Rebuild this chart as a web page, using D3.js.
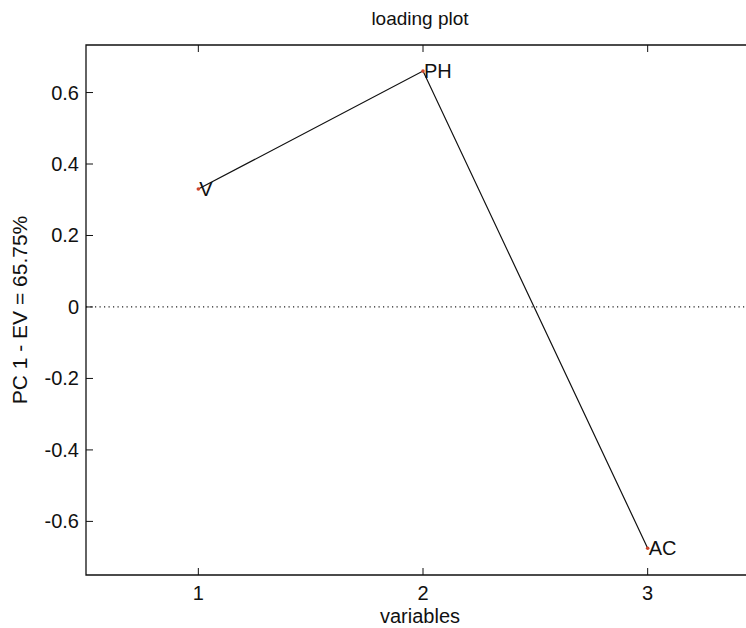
<!DOCTYPE html>
<html>
<head>
<meta charset="utf-8">
<script src="https://cdn.jsdelivr.net/npm/d3@7"></script>
<style>
  body { margin: 0; background: #fff; overflow: hidden; }
  svg { display: block; }
  text { font-family: "Liberation Sans", Arial, sans-serif; fill: #111; }
</style>
</head>
<body>
<div id="chart"></div>
<script>
// loadings for PC 1
var variables = ["V", "PH", "AC"];
var positions = [1, 2, 3];
var loadings = [0.33, 0.66, -0.675];

var xTicks = [1, 2, 3];
var yTicks = [-0.6, -0.4, -0.2, 0, 0.2, 0.4, 0.6];

var W = 746, H = 628;
var margin = { top: 45, left: 86, bottom: 53, right: -14 };

var svg = d3.select("#chart").append("svg")
  .attr("width", W)
  .attr("height", H);

var x = d3.scaleLinear().domain([0.5, 3.5]).range([margin.left, W - margin.right]);
var y = d3.scaleLinear().domain([-0.75, 0.733]).range([H - margin.bottom, margin.top]);

var fmt = function(d) {
  if (d === 0) return "0";
  return (d < 0 ? "-" : "") + d3.format(".1f")(Math.abs(d));
};

// zero line
svg.append("line")
  .attr("x1", x(0.5)).attr("x2", x(3.5))
  .attr("y1", y(0)).attr("y2", y(0))
  .attr("stroke", "#222")
  .attr("stroke-width", 1.2)
  .attr("stroke-dasharray", "1.2,3.3");

// axes box (right side falls outside the window)
var x0 = x(0.5), x1 = x(3.5), yT = y(0.733), yB = y(-0.75);
svg.append("path")
  .attr("d", "M" + x1 + "," + yT + "H" + x0 + "V" + yB + "H" + x1)
  .attr("fill", "none")
  .attr("stroke", "#111")
  .attr("stroke-width", 1.3);

// inward ticks
var tl = 7;
var gx = svg.append("g");
xTicks.forEach(function(t) {
  gx.append("line").attr("x1", x(t)).attr("x2", x(t))
    .attr("y1", yB).attr("y2", yB - tl).attr("stroke", "#111");
  gx.append("line").attr("x1", x(t)).attr("x2", x(t))
    .attr("y1", yT).attr("y2", yT + tl).attr("stroke", "#111");
  gx.append("text")
    .attr("x", x(t)).attr("y", yB + 25)
    .attr("text-anchor", "middle")
    .style("font-size", "20px")
    .text(t);
});
var gy = svg.append("g");
yTicks.forEach(function(t) {
  gy.append("line").attr("x1", x0).attr("x2", x0 + tl)
    .attr("y1", y(t)).attr("y2", y(t)).attr("stroke", "#111");
  gy.append("text")
    .attr("x", x0 - 7).attr("y", y(t))
    .attr("dy", "0.35em")
    .attr("text-anchor", "end")
    .style("font-size", "20px")
    .text(fmt(t));
});

// loading line
var pts = positions.map(function(p, i) { return { x: p, y: loadings[i], name: variables[i] }; });
svg.append("path")
  .datum(pts)
  .attr("fill", "none")
  .attr("stroke", "#111")
  .attr("stroke-width", 1.2)
  .attr("d", d3.line().x(function(d) { return x(d.x); }).y(function(d) { return y(d.y); }));

svg.selectAll(".pt")
  .data(pts)
  .enter().append("circle")
  .attr("class", "pt")
  .attr("cx", function(d) { return x(d.x); })
  .attr("cy", function(d) { return y(d.y); })
  .attr("r", 1.8)
  .attr("fill", "#d0452a");

svg.selectAll(".lab")
  .data(pts)
  .enter().append("text")
  .attr("class", "lab")
  .attr("x", function(d) { return x(d.x) + 1; })
  .attr("y", function(d) { return y(d.y); })
  .attr("dy", "0.36em")
  .style("font-size", "20px")
  .text(function(d) { return d.name; });

// titles
svg.append("text")
  .attr("x", (x0 + x1) / 2 - 3).attr("y", 25)
  .attr("text-anchor", "middle")
  .style("font-size", "19px")
  .text("loading plot");

svg.append("text")
  .attr("x", (x0 + x1) / 2 - 3).attr("y", H - 5)
  .attr("text-anchor", "middle")
  .style("font-size", "20px")
  .text("variables");

svg.append("text")
  .attr("transform", "translate(27," + ((yT + yB) / 2) + ") rotate(-90)")
  .attr("text-anchor", "middle")
  .style("font-size", "21px")
  .text("PC 1 - EV = 65.75%");
</script>
</body>
</html>
